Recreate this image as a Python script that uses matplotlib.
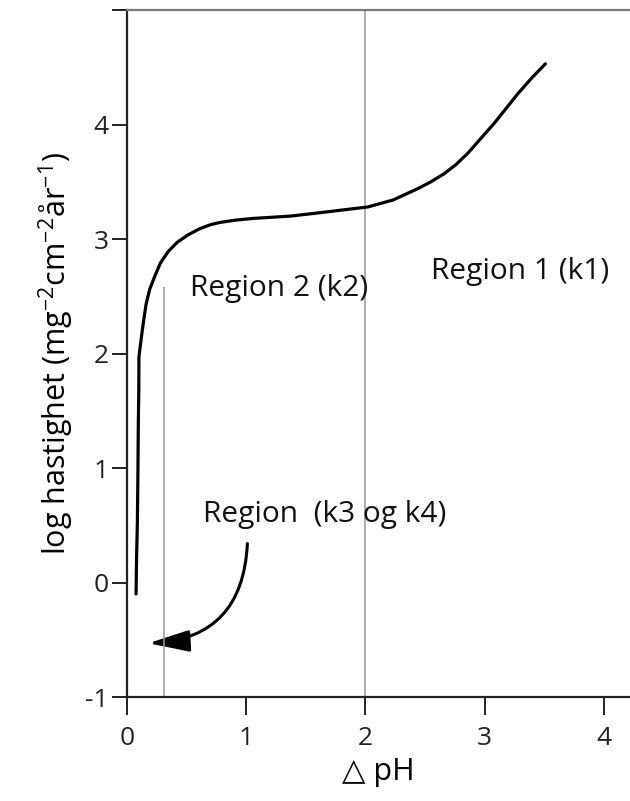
import matplotlib
matplotlib.use("Agg")
import matplotlib.pyplot as plt
from matplotlib.patches import FancyArrowPatch

plt.rcParams['font.family'] = ['Open Sans', 'DejaVu Sans']
plt.rcParams['mathtext.fontset'] = 'custom'
plt.rcParams['mathtext.rm'] = 'Open Sans'
plt.rcParams['mathtext.it'] = 'Open Sans'
plt.rcParams['mathtext.default'] = 'regular'

# curve
dph = [0.076, 0.08, 0.087, 0.091, 0.095, 0.099, 0.10, 0.118, 0.137, 0.16,
       0.19, 0.235, 0.28, 0.345, 0.42, 0.51, 0.61, 0.70, 0.78, 0.91, 1.06,
       1.37, 1.62, 2.02, 2.23, 2.44, 2.55, 2.66, 2.76, 2.86, 2.97, 3.08,
       3.18, 3.28, 3.39, 3.51]
log_rate = [-0.10, 0.21, 0.53, 0.90, 1.40, 1.69, 1.97, 2.12, 2.27, 2.43,
            2.56, 2.68, 2.79, 2.89, 2.97, 3.035, 3.09, 3.125, 3.145, 3.165, 3.18,
            3.20, 3.23, 3.28, 3.34, 3.44, 3.50, 3.57, 3.65, 3.75, 3.88, 4.01,
            4.14, 4.27, 4.40, 4.53]

# region boundaries (x, top of line)
boundary_x = [0.31, 2.0]
boundary_top = [2.58, 5.0]

# region labels
labels = ['Region 2 (k2)', 'Region 1 (k1)', 'Region  (k3 og k4)']
label_x = [0.53, 2.55, 0.64]
label_y = [2.50, 2.65, 0.53]

# arrow from region label down to the low part
arrow_start = (1.01, 0.34)
arrow_end = (0.18, -0.53)

fig = plt.figure(figsize=(6.3, 8.01), dpi=100)
ax = fig.add_axes([0.2016, 0.1298, 0.7984, 0.8577])

ax.vlines(boundary_x, -1, boundary_top, colors='#9a9a9a', linewidth=1.1)
ax.plot(dph, log_rate, color='black', linewidth=2.3,
        solid_capstyle='round', solid_joinstyle='round')

for txt, x, y in zip(labels, label_x, label_y):
    ax.text(x, y, txt, fontsize=21.5, va='baseline', ha='left', color='#111111')

arr = FancyArrowPatch(arrow_start, arrow_end, connectionstyle='arc3,rad=-0.45',
                      arrowstyle='-|>,head_length=1.25,head_width=0.33',
                      mutation_scale=20, color='black', linewidth=2.2,
                      shrinkA=0, shrinkB=0)
ax.add_patch(arr)

ax.set_xlim(0, 4.22)
ax.set_ylim(-1, 5)
ax.set_xticks([0, 1, 2, 3, 4])
ax.set_yticks([-1, 0, 1, 2, 3, 4, 5])
ax.set_yticklabels(['-1', '0', '1', '2', '3', '4', ''])

ax.spines['right'].set_visible(False)
ax.spines['top'].set_color('#7a7a7a')
ax.spines['top'].set_linewidth(1.6)
ax.spines['left'].set_linewidth(1.6)
ax.spines['bottom'].set_linewidth(1.6)
ax.spines['left'].set_color('#222222')
ax.spines['bottom'].set_color('#222222')

ax.tick_params(axis='x', direction='out', length=13, width=1.4, pad=8,
               labelsize=19, colors='#222222')
ax.tick_params(axis='y', direction='out', length=11, width=1.4, pad=2,
               labelsize=19, colors='#222222')

ax.set_xlabel('△ pH', fontsize=22, labelpad=4)
ax.set_ylabel('log hastighet (mg$^{-2}$cm$^{-2}$år$^{-1}$)', fontsize=22, labelpad=7)

fig.savefig('out.png', dpi=100)
